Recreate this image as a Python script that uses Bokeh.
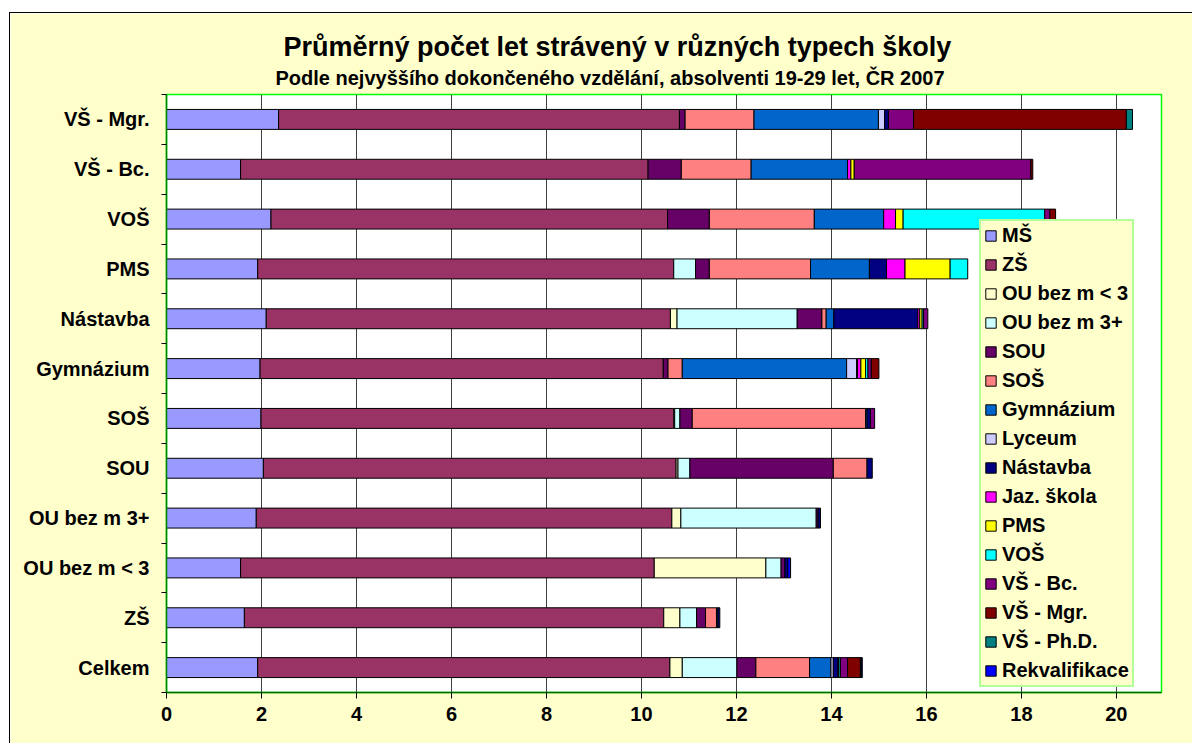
from bokeh.plotting import figure
from bokeh.models import ColumnDataSource, Range1d, FixedTicker, Legend, LegendItem, Title
from bokeh.transform import stack
from bokeh.embed import file_html
from bokeh.resources import INLINE

# ---------------- data ----------------
categories = ["Celkem", "ZŠ", "OU bez m < 3", "OU bez m 3+", "SOU", "SOŠ",
              "Gymnázium", "Nástavba", "PMS", "VOŠ", "VŠ - Bc.", "VŠ - Mgr."]

series_keys = ["ms", "zs", "ou_lt3", "ou_3p", "sou", "sos", "gym", "lyceum",
               "nastavba", "jaz", "pms", "vos", "vs_bc", "vs_mgr", "vs_phd", "rekval"]
series_names = ["MŠ", "ZŠ", "OU bez m < 3", "OU bez m 3+", "SOU", "SOŠ", "Gymnázium",
                "Lyceum", "Nástavba", "Jaz. škola", "PMS", "VOŠ", "VŠ - Bc.",
                "VŠ - Mgr.", "VŠ - Ph.D.", "Rekvalifikace"]
series_colors = ["#9999FF", "#993366", "#FFFFCC", "#CCFFFF", "#660066", "#FF8080",
                 "#0066CC", "#CCCCFF", "#000080", "#FF00FF", "#FFFF00", "#00FFFF",
                 "#800080", "#800000", "#008080", "#0000FF"]

ms       = [1.92, 1.64, 1.56, 1.89, 2.04, 1.99, 1.97, 2.10, 1.92, 2.20, 1.56, 2.36]
zs       = [8.68, 8.83, 8.71, 8.75, 8.69, 8.69, 8.49, 8.51, 8.76, 8.35, 8.58, 8.44]
ou_lt3   = [0.26, 0.34, 2.35, 0.19, 0.04, 0.02, 0.00, 0.14, 0.00, 0.00, 0.00, 0.00]
ou_3p    = [1.15, 0.35, 0.32, 2.85, 0.25, 0.11, 0.00, 2.53, 0.46, 0.00, 0.00, 0.00]
sou      = [0.40, 0.19, 0.08, 0.04, 3.02, 0.26, 0.10, 0.52, 0.29, 0.88, 0.70, 0.12]
sos      = [1.13, 0.23, 0.00, 0.00, 0.71, 3.65, 0.30, 0.09, 2.13, 2.21, 1.47, 1.45]
gym      = [0.45, 0.03, 0.00, 0.00, 0.00, 0.03, 3.46, 0.16, 1.24, 1.46, 2.03, 2.62]
lyceum   = [0.05, 0.00, 0.00, 0.00, 0.00, 0.00, 0.21, 0.00, 0.00, 0.00, 0.00, 0.13]
nastavba = [0.10, 0.04, 0.06, 0.05, 0.11, 0.07, 0.02, 1.77, 0.36, 0.00, 0.00, 0.08]
jaz      = [0.01, 0.00, 0.00, 0.00, 0.00, 0.00, 0.07, 0.04, 0.39, 0.25, 0.07, 0.00]
pms      = [0.01, 0.00, 0.00, 0.00, 0.00, 0.00, 0.10, 0.05, 0.95, 0.16, 0.07, 0.00]
vos      = [0.03, 0.00, 0.00, 0.00, 0.00, 0.00, 0.05, 0.03, 0.37, 2.98, 0.00, 0.00]
vs_bc    = [0.15, 0.00, 0.00, 0.00, 0.00, 0.09, 0.07, 0.09, 0.00, 0.11, 3.72, 0.53]
vs_mgr   = [0.27, 0.00, 0.00, 0.00, 0.00, 0.00, 0.16, 0.00, 0.00, 0.12, 0.04, 4.48]
vs_phd   = [0.02, 0.00, 0.00, 0.00, 0.00, 0.00, 0.00, 0.00, 0.00, 0.00, 0.00, 0.13]
rekval   = [0.02, 0.00, 0.06, 0.00, 0.00, 0.00, 0.00, 0.00, 0.00, 0.00, 0.00, 0.00]

x_ticks = [0, 2, 4, 6, 8, 10, 12, 14, 16, 18, 20]

title_text = "Průměrný počet let strávený v různých typech školy"
subtitle_text = "Podle nejvyššího dokončeného vzdělání, absolventi 19-29 let, ČR 2007"

values = dict(ms=ms, zs=zs, ou_lt3=ou_lt3, ou_3p=ou_3p, sou=sou, sos=sos, gym=gym,
              lyceum=lyceum, nastavba=nastavba, jaz=jaz, pms=pms, vos=vos,
              vs_bc=vs_bc, vs_mgr=vs_mgr, vs_phd=vs_phd, rekval=rekval)

data = {"y": list(range(len(categories)))}
for k in series_keys:
    data[k] = values[k]
    data["a_" + k] = [1.0 if v > 0 else 0.0 for v in values[k]]
src = ColumnDataSource(data)

FONT = "Liberation Sans"

p = figure(width=1183, height=731, output_backend="svg", toolbar_location=None,
           x_range=Range1d(0, 20.95), y_range=Range1d(-0.5, len(categories) - 0.5),
           min_border_left=156, min_border_right=32, min_border_top=81, min_border_bottom=52,
           margin=(12, 0, 0, 9),
           styles={"border-left": "1px solid black", "border-top": "1px solid black"})
p.title = None
p.border_fill_color = "#FFFFCC"
p.background_fill_color = "white"
p.outline_line_color = "#00FF00"
p.outline_line_width = 1.5

renderers = []
for i, (k, c) in enumerate(zip(series_keys, series_colors)):
    left = stack(*series_keys[:i]) if i > 0 else 0
    r = p.hbar(y="y", height=0.4, left=left, right=stack(*series_keys[:i + 1]),
               fill_color=c, line_color="black", line_width=1, line_alpha="a_" + k,
               source=src)
    renderers.append(r)

# axes
p.xaxis.ticker = FixedTicker(ticks=x_ticks)
p.xgrid.ticker = FixedTicker(ticks=x_ticks)
p.xgrid.grid_line_color = "#404040"
p.xgrid.grid_line_width = 1
p.ygrid.grid_line_color = None
p.xaxis.axis_line_color = "#006600"
p.xaxis.axis_line_width = 1.5
p.xaxis.major_tick_line_color = "black"
p.xaxis.major_tick_out = 6
p.xaxis.major_tick_in = 0
p.xaxis.minor_tick_line_color = None
p.xaxis.major_label_text_font = FONT
p.xaxis.major_label_text_font_style = "bold"
p.xaxis.major_label_text_font_size = "20px"
p.xaxis.major_label_text_color = "black"
p.xaxis.major_label_standoff = 8

p.yaxis.ticker = FixedTicker(ticks=list(range(len(categories))),
                             minor_ticks=[i - 0.5 for i in range(len(categories) + 1)])
p.yaxis.major_label_overrides = {i: c for i, c in enumerate(categories)}
p.yaxis.axis_line_color = "#008000"
p.yaxis.axis_line_width = 1.5
p.yaxis.major_tick_line_color = None
p.yaxis.major_tick_out = 0
p.yaxis.major_tick_in = 0
p.yaxis.minor_tick_line_color = "black"
p.yaxis.minor_tick_out = 5
p.yaxis.minor_tick_in = 0
p.yaxis.major_label_text_font = FONT
p.yaxis.major_label_text_font_style = "bold"
p.yaxis.major_label_text_font_size = "20px"
p.yaxis.major_label_text_color = "black"
p.yaxis.major_label_standoff = 12

# legend
legend = Legend(items=[LegendItem(label=n, renderers=[r]) for n, r in zip(series_names, renderers)],
                location=(813, 5))
legend.label_text_font = FONT
legend.label_text_font_style = "bold"
legend.label_text_font_size = "20px"
legend.label_text_color = "black"
legend.glyph_width = 13
legend.glyph_height = 13
legend.label_height = 20
legend.spacing = 6
legend.padding = 3
legend.margin = 0
legend.label_standoff = 5
legend.background_fill_color = "#FFFFCC"
legend.background_fill_alpha = 1
legend.border_line_color = "#66FF66"
legend.border_line_width = 2
p.add_layout(legend)

# titles (first added sits closest to the plot)
sub = Title(text=subtitle_text, align="left", offset=109, text_font=FONT,
            text_font_style="bold", text_font_size="20px", text_color="black", standoff=11)
main = Title(text=title_text, align="left", offset=117, text_font=FONT,
             text_font_style="bold", text_font_size="27px", text_color="black", standoff=-5)
p.add_layout(sub, "above")
p.add_layout(main, "above")

open("out.html", "w").write(file_html(p, INLINE))
